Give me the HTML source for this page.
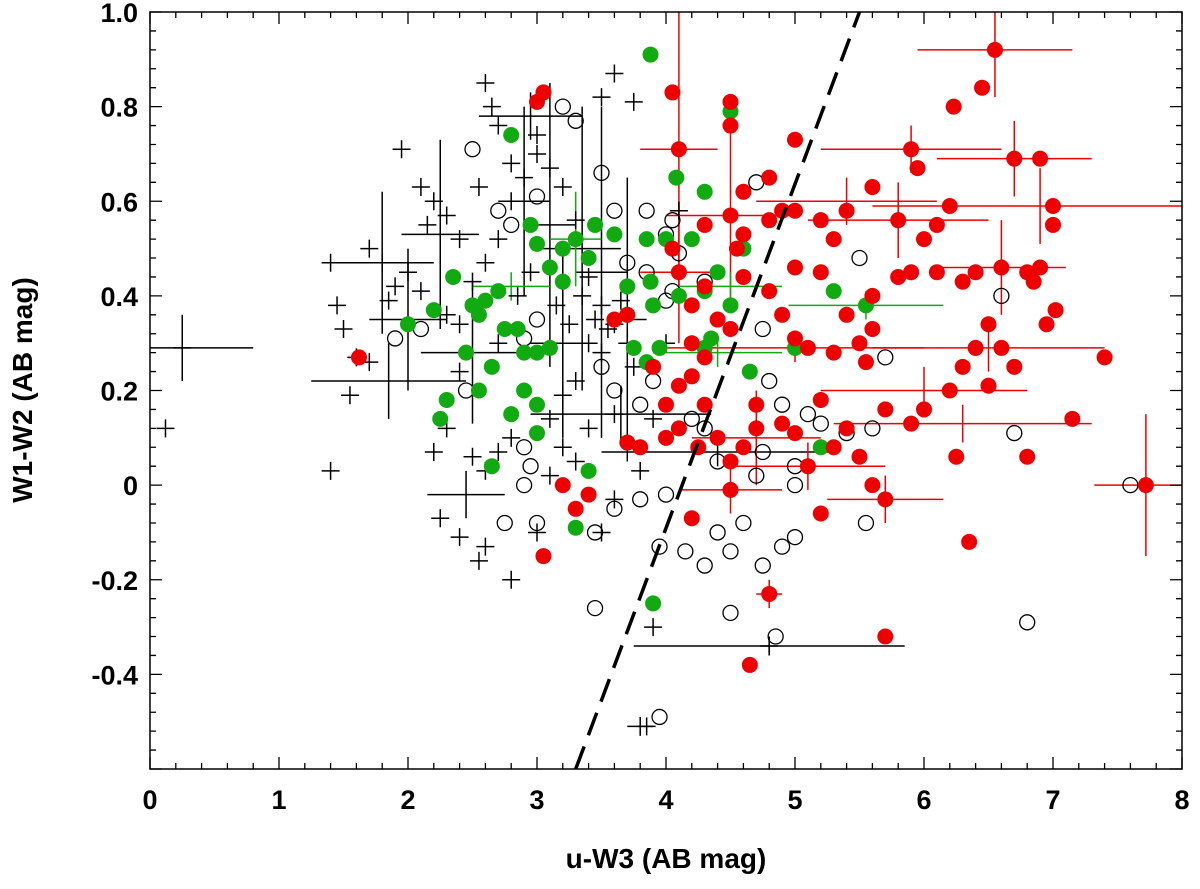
<!DOCTYPE html>
<html><head><meta charset="utf-8"><style>
html,body{margin:0;padding:0;background:#fff}
svg{display:block;font-family:"Liberation Sans",sans-serif}
</style></head><body>
<svg id="chart" width="1200" height="889" viewBox="0 0 1200 889">
<defs><clipPath id="pc"><rect x="150" y="12" width="1032" height="757"/></clipPath></defs>
<g id="marks" clip-path="url(#pc)"></g>
<g id="axes"></g>
<text x="666" y="868" text-anchor="middle" font-size="28" font-weight="bold">u-W3 (AB mag)</text>
<text transform="translate(32,390) rotate(-90)" text-anchor="middle" font-size="28" font-weight="bold">W1-W2 (AB mag)</text>
</svg>
<script>
const xTicks=[0,1,2,3,4,5,6,7,8];
const yTicks=[-0.4,-0.2,0,0.2,0.4,0.6,0.8,1.0];
const yTickLabels=["-0.4","-0.2","0","0.2","0.4","0.6","0.8","1.0"];
const redPts=[[1.62,0.27],[3.05,0.83],[3.05,-0.15],[4.05,0.83],[4.1,0.71],[4.5,0.81],[4.5,0.76],[4.6,0.62],[4.5,0.57],[4.6,0.53],[4.8,0.65],[4.9,0.58],[5.0,0.73],[5.2,0.56],[5.3,0.52],[5.4,0.58],[5.2,0.45],[5.0,0.46],[5.6,0.63],[5.8,0.56],[6.0,0.52],[6.1,0.55],[6.2,0.59],[6.23,0.8],[6.45,0.84],[6.55,0.92],[5.9,0.71],[5.95,0.67],[6.7,0.69],[6.9,0.69],[7.0,0.59],[7.0,0.55],[7.02,0.37],[6.95,0.34],[6.8,0.45],[6.85,0.43],[6.9,0.46],[6.6,0.46],[6.4,0.45],[6.3,0.43],[6.1,0.45],[5.9,0.45],[5.8,0.44],[5.6,0.40],[5.6,0.33],[5.55,0.26],[5.5,0.3],[5.3,0.28],[5.1,0.29],[5.0,0.31],[4.9,0.36],[4.8,0.41],[4.6,0.44],[4.5,0.33],[4.4,0.35],[4.3,0.42],[4.2,0.38],[4.2,0.30],[4.3,0.27],[4.2,0.23],[4.1,0.21],[4.0,0.17],[4.1,0.12],[4.0,0.10],[4.25,0.08],[4.3,0.17],[4.4,0.10],[4.5,0.05],[4.6,0.08],[4.7,0.12],[4.7,0.17],[4.9,0.13],[5.0,0.11],[5.1,0.04],[5.2,0.18],[5.3,0.08],[5.4,0.12],[5.5,0.06],[5.6,0.0],[5.7,0.16],[5.9,0.13],[6.0,0.16],[6.2,0.20],[6.3,0.25],[6.4,0.29],[6.5,0.34],[6.6,0.29],[6.7,0.25],[6.5,0.21],[6.25,0.06],[6.8,0.06],[7.15,0.14],[7.4,0.27],[7.72,0.0],[5.7,-0.03],[5.2,-0.06],[4.5,-0.01],[4.8,-0.23],[5.7,-0.32],[4.65,-0.38],[6.35,-0.12],[4.2,-0.07],[3.8,0.08],[3.7,0.09],[3.3,-0.05],[3.4,-0.02],[3.2,0.0],[3.6,0.35],[3.7,0.36],[3.0,0.81],[4.1,0.45],[4.05,0.50],[4.55,0.50],[3.9,0.25],[5.4,0.36],[4.3,0.55],[4.8,0.56],[5.0,0.58]];
const greenPts=[[3.88,0.91],[4.5,0.79],[4.08,0.65],[4.3,0.62],[2.8,0.74],[3.0,0.51],[2.95,0.55],[3.2,0.50],[3.3,0.52],[3.1,0.46],[3.2,0.43],[3.4,0.48],[3.45,0.55],[3.6,0.53],[3.7,0.42],[3.85,0.52],[4.0,0.52],[4.2,0.52],[4.4,0.45],[4.6,0.50],[3.88,0.43],[2.35,0.44],[2.2,0.37],[2.0,0.34],[2.5,0.38],[2.55,0.36],[2.6,0.39],[2.7,0.41],[2.75,0.33],[2.85,0.33],[2.9,0.28],[3.0,0.28],[3.1,0.29],[2.45,0.28],[2.55,0.20],[2.3,0.18],[2.25,0.14],[2.65,0.25],[2.65,0.04],[2.8,0.15],[2.9,0.20],[3.0,0.17],[3.0,0.11],[3.3,-0.09],[3.4,0.03],[3.95,0.29],[3.75,0.29],[3.85,0.26],[4.3,0.29],[4.35,0.31],[4.5,0.38],[4.65,0.24],[5.0,0.29],[5.3,0.41],[5.2,0.08],[5.55,0.38],[3.9,-0.25],[4.1,0.4],[4.3,0.41],[3.9,0.38]];
const openPts=[[2.5,0.71],[3.0,0.61],[3.2,0.80],[3.3,0.77],[3.5,0.66],[3.6,0.58],[3.85,0.58],[4.0,0.53],[4.05,0.56],[4.1,0.49],[3.7,0.47],[3.85,0.45],[4.0,0.39],[4.05,0.41],[4.3,0.43],[4.7,0.64],[4.75,0.33],[3.5,0.25],[3.6,0.20],[3.8,0.17],[3.9,0.22],[4.3,0.12],[4.2,0.14],[4.4,0.05],[4.7,0.02],[4.75,0.07],[4.8,0.22],[5.1,0.15],[5.2,0.13],[5.4,0.11],[5.5,0.48],[5.6,0.12],[5.7,0.27],[6.6,0.40],[6.7,0.11],[7.6,0.0],[5.55,-0.08],[5.0,-0.11],[4.9,-0.13],[4.75,-0.17],[4.5,-0.14],[4.3,-0.17],[4.15,-0.14],[3.95,-0.13],[3.8,-0.03],[3.6,-0.05],[3.45,-0.1],[3.0,-0.08],[2.75,-0.08],[2.9,0.08],[2.9,0.0],[2.95,0.04],[3.45,-0.26],[4.5,-0.27],[4.85,-0.32],[6.8,-0.29],[3.95,-0.49],[5.0,0.0],[5.0,0.04],[4.9,0.17],[4.6,-0.08],[4.4,-0.1],[4.0,-0.02],[2.45,0.20],[2.1,0.33],[1.9,0.31],[2.8,0.55],[2.7,0.58],[3.0,0.35],[2.9,0.31]];
const crossPts=[[2.6,0.85],[2.65,0.8],[2.7,0.76],[2.4,0.52],[1.95,0.71],[2.1,0.63],[2.2,0.6],[1.7,0.5],[1.8,0.47],[1.4,0.47],[1.45,0.38],[1.5,0.33],[1.6,0.27],[1.7,0.26],[1.85,0.39],[1.9,0.42],[2.0,0.45],[2.1,0.41],[2.3,0.36],[2.4,0.34],[2.5,0.43],[2.6,0.47],[2.7,0.52],[2.8,0.60],[2.9,0.65],[3.0,0.70],[3.1,0.67],[3.2,0.63],[3.3,0.56],[3.4,0.44],[3.5,0.38],[3.6,0.34],[3.7,0.30],[3.4,0.30],[3.5,0.28],[3.3,0.22],[3.2,0.19],[3.1,0.14],[2.8,0.10],[2.7,0.07],[2.6,0.03],[2.5,0.06],[2.3,0.12],[2.2,0.07],[1.55,0.19],[1.4,0.03],[0.12,0.12],[0.25,0.29],[2.25,-0.07],[2.4,-0.11],[2.6,-0.13],[2.55,-0.16],[2.8,-0.2],[3.0,-0.1],[3.6,-0.03],[3.5,-0.1],[3.8,0.03],[3.9,0.14],[4.0,0.3],[3.9,-0.3],[3.85,-0.51],[4.8,-0.34],[4.1,0.58],[3.75,0.81],[3.6,0.87],[3.5,0.82],[3.0,0.74],[2.8,0.68],[2.55,0.63],[2.15,0.55],[2.3,0.57],[2.4,0.24],[2.7,0.3],[2.85,0.4],[2.95,0.45],[3.15,0.38],[3.25,0.34],[3.35,0.4],[3.45,0.35],[3.55,0.33],[3.65,0.39],[3.75,0.25],[3.6,0.15],[3.4,0.12],[3.3,0.05],[3.2,0.08],[3.1,0.02]];
const redErr=[[6.55,0.92,0.6,0.1],[6.7,0.69,0.6,0.08],[6.9,0.59,1.3,0.08],[5.8,0.56,0.7,0.08],[6.6,0.46,0.5,0.1],[7.72,0.0,0.4,0.15],[5.7,-0.03,0.45,0.05],[6.5,0.29,0.9,0.05],[6.0,0.2,0.8,0.05],[6.3,0.13,1.0,0.04],[5.1,0.04,0.6,0.05],[4.5,0.57,0.5,0.2],[4.1,0.71,0.3,0.3],[4.1,0.45,0.3,0.15],[4.7,0.1,0.5,0.1],[5.9,0.71,0.7,0.05],[5.4,0.6,0.7,0.05],[4.5,-0.01,0.4,0.05],[4.8,-0.23,0.1,0.03],[5.0,0.29,1.0,0.03]];
const greenErr=[[5.55,0.38,0.6,0.03],[4.4,0.28,0.5,0.03],[4.5,0.42,0.4,0.03],[3.3,0.52,0.2,0.1],[2.8,0.42,0.3,0.03]];
const blackErr=[[0.25,0.29,0.55,0.07],[1.85,0.22,0.6,0.08],[1.8,0.47,0.4,0.15],[2.0,0.35,0.3,0.15],[2.25,0.53,0.3,0.2],[2.9,0.6,0.2,0.2],[3.1,0.55,0.2,0.3],[3.35,0.5,0.3,0.3],[3.5,0.45,0.2,0.35],[3.7,0.35,0.15,0.3],[3.2,0.3,0.25,0.2],[2.5,0.28,0.4,0.15],[4.4,0.07,0.9,0.03],[4.8,-0.34,1.05,0.02],[3.8,-0.51,0.1,0.02],[2.45,-0.02,0.3,0.05],[3.65,0.15,0.7,0.06],[2.95,0.78,0.4,0.05]];
const lineX=[3.3,5.5], lineY=[-0.6,1.0];

const L=150,R=1182,T=12,B=769,X0=0,X1=8,Y0=-0.6,Y1=1.0;
const sx=v=>L+(v-X0)/(X1-X0)*(R-L);
const sy=v=>B-(v-Y0)/(Y1-Y0)*(B-T);
const NS='http://www.w3.org/2000/svg';
const marks=document.getElementById('marks'), axes=document.getElementById('axes');
function mk(tag,attrs,parent){const e=document.createElementNS(NS,tag);for(const k in attrs)e.setAttribute(k,attrs[k]);parent.appendChild(e);return e;}
function err(list,col){list.forEach(d=>{
  const g=mk('path',{d:`M${sx(d[0]-d[2])},${sy(d[1])}H${sx(d[0]+d[2])}M${sx(d[0])},${sy(d[1]-d[3])}V${sy(d[1]+d[3])}`,stroke:col,'stroke-width':1.5,fill:'none'},marks);
  
  
});}
err(blackErr,'#000');err(redErr,'#e00');err(greenErr,'#1a1');
crossPts.forEach(d=>{const e=mk('path',{d:`M${sx(d[0])-9},${sy(d[1])}h18M${sx(d[0])},${sy(d[1])-9}v18`,stroke:'#000','stroke-width':1.5},marks);
  
  });
openPts.forEach(d=>{const e=mk('circle',{cx:sx(d[0]),cy:sy(d[1]),r:7.5,fill:'none',stroke:'#000','stroke-width':1.3},marks);
  
  });
greenPts.forEach(d=>{const e=mk('circle',{cx:sx(d[0]),cy:sy(d[1]),r:8,fill:'#1a1'},marks);
  
  });
redPts.forEach(d=>{const e=mk('circle',{cx:sx(d[0]),cy:sy(d[1]),r:8,fill:'#e00'},marks);
  
  });
const dl=mk('line',{x1:sx(lineX[0]),y1:sy(lineY[0]),x2:sx(lineX[1]),y2:sy(lineY[1]),stroke:'#000','stroke-width':3.5,'stroke-dasharray':'24,12'},marks);


const fr=mk('rect',{x:L,y:T,width:R-L,height:B-T,fill:'none',stroke:'#000','stroke-width':1.5},axes);


for(let v=0;v<=8.0001;v+=0.2){const x=sx(v);const big=Math.abs(v-Math.round(v))<1e-6;const len=big?12:6;
  mk('path',{d:`M${x},${B}v${-len}M${x},${T}v${len}`,stroke:'#000','stroke-width':1.3},axes);}
for(let v=-0.6;v<=1.0001;v+=0.04){const y=sy(v);const big=Math.abs(v*5-Math.round(v*5))<1e-6;const len=big?12:6;
  mk('path',{d:`M${L},${y}h${len}M${R},${y}h${-len}`,stroke:'#000','stroke-width':1.3},axes);}
xTicks.forEach(v=>{const t=mk('text',{x:sx(v),y:B+40,'text-anchor':'middle','font-size':27,'font-weight':'bold'},axes);t.textContent=v;
  
  });
yTicks.forEach((v,i)=>{const t=mk('text',{x:L-12,y:sy(v)+10,'text-anchor':'end','font-size':27,'font-weight':'bold'},axes);t.textContent=yTickLabels[i];
  
  });
</script>
</body></html>
